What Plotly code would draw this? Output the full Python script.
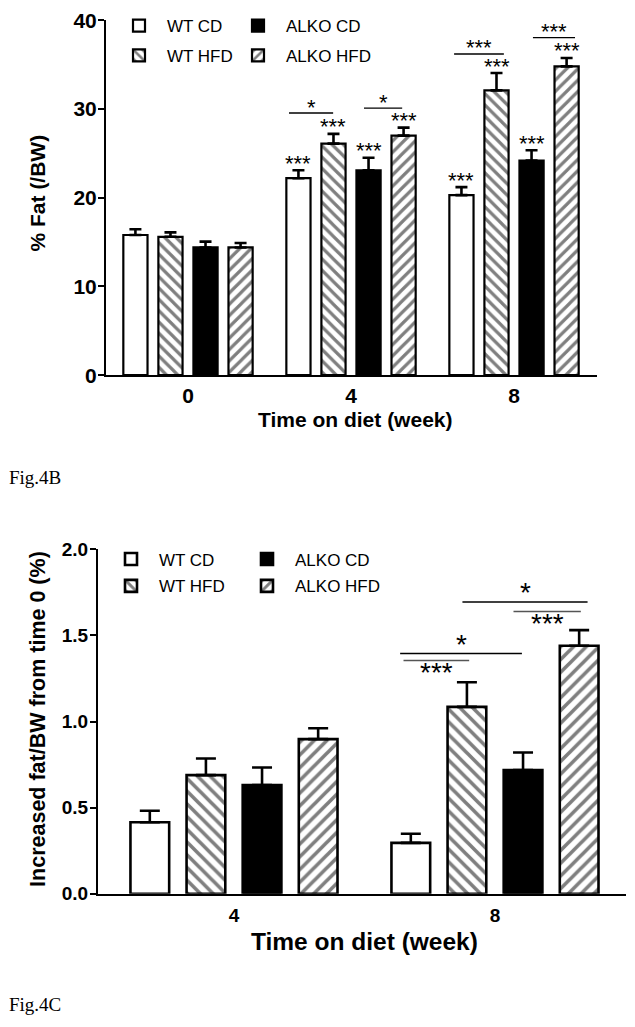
import plotly.graph_objects as go

# ---------------- data ----------------
series_names = ["WT CD", "WT HFD", "ALKO CD", "ALKO HFD"]

# Fig 4A: % Fat (/BW) at week 0, 4, 8
weeks_a = ["0", "4", "8"]
wt_cd_fat = [15.8, 22.2, 20.3]
wt_cd_fat_sem = [0.65, 0.9, 0.9]
wt_hfd_fat = [15.6, 26.1, 32.1]
wt_hfd_fat_sem = [0.5, 1.1, 1.95]
alko_cd_fat = [14.4, 23.1, 24.2]
alko_cd_fat_sem = [0.65, 1.4, 1.15]
alko_hfd_fat = [14.4, 27.0, 34.8]
alko_hfd_fat_sem = [0.5, 0.9, 0.95]
fat_stars = [["", "***", "***"], ["", "***", "***"], ["", "***", "***"], ["", "***", "***"]]
# brackets: (week index, from bar idx, to bar idx, y value, label)
fat_brackets = [(1, -0.27, 0.99, 29.55, "*"), (1, 1.87, 2.96, 30.1, "*"),
                (2, -0.21, 1.21, 36.2, "***"), (2, 2.04, 3.24, 38.05, "***")]

# Fig 4B: Increased fat/BW from time 0 (%) at week 4, 8
weeks_b = ["4", "8"]
wt_cd_inc = [0.415, 0.295]
wt_cd_inc_sem = [0.067, 0.053]
wt_hfd_inc = [0.689, 1.085]
wt_hfd_inc_sem = [0.096, 0.143]
alko_cd_inc = [0.631, 0.718]
alko_cd_inc_sem = [0.102, 0.102]
alko_hfd_inc = [0.898, 1.440]
alko_hfd_inc_sem = [0.063, 0.091]
# brackets: (week index, from bar idx, to bar idx, y value, label, label side, colour)
inc_brackets = [(1, 0.92, 3.15, 1.695, "*", "above", "black"),
                (1, 1.83, 3.03, 1.639, "***", "below", "#555555"),
                (1, -0.19, 1.98, 1.396, "*", "above", "black"),
                (1, -0.13, 1.04, 1.355, "***", "below", "#555555")]

# ---------------- styling ----------------
OFF = 8                      # default page margin of the html body
W, H = 635 - OFF, 1027 - OFF
SANS = "Liberation Sans, Arial, sans-serif"
BARGAP = 0.14
SLOT = (1 - BARGAP) / 4

def px(v):
    return (v - OFF) / W

def py(v):
    return 1 - (v - OFF) / H

def bar_x(cat, idx):
    return cat + (idx - 1.5) * SLOT

styles = [
    dict(color="white", pattern=None),
    dict(color="white", pattern="\\"),
    dict(color="black", pattern=None),
    dict(color="white", pattern="/"),
]

# legend placement per series: (left x px, centre y px) for top and bottom charts
legend_pos_top = [(111, 23), (111, 53), (230, 23), (230, 53)]
legend_pos_bot = [(103, 558), (103, 585), (239, 558), (239, 585)]

fig = go.Figure()

top_vals = [wt_cd_fat, wt_hfd_fat, alko_cd_fat, alko_hfd_fat]
top_sems = [wt_cd_fat_sem, wt_hfd_fat_sem, alko_cd_fat_sem, alko_hfd_fat_sem]
bot_vals = [wt_cd_inc, wt_hfd_inc, alko_cd_inc, alko_hfd_inc]
bot_sems = [wt_cd_inc_sem, wt_hfd_inc_sem, alko_cd_inc_sem, alko_hfd_inc_sem]

legends = {}

def leg(xp, yp):
    return dict(orientation="h", x=px(xp), y=py(yp), xanchor="left", yanchor="middle",
                font=dict(family=SANS, size=17, color="black"), bgcolor="rgba(0,0,0,0)",
                borderwidth=0, itemwidth=46)

for i, name in enumerate(series_names):
    st = styles[i]
    for chart, (vals, sems, xa, ya, lw, psize, ew, lpos) in enumerate([
        (top_vals, top_sems, "x", "y", 2.2, 8, 6, legend_pos_top),
        (bot_vals, bot_sems, "x2", "y2", 2.6, 9, 10, legend_pos_bot),
    ]):
        k = chart * 4 + i + 1
        lname = "legend" if k == 1 else "legend%d" % k
        legends[lname] = leg(*lpos[i])
        marker = dict(color=st["color"], line=dict(color="black", width=lw))
        if st["pattern"]:
            marker["pattern"] = dict(shape=st["pattern"], fgcolor="black", bgcolor="white",
                                     size=psize, solidity=0.4, fillmode="overlay")
        fig.add_trace(go.Bar(
            x=list(range(len(vals[i]))), y=vals[i], name=name, marker=marker,
            xaxis=xa, yaxis=ya, offsetgroup=str(i), legend=lname,
            error_y=dict(type="data", array=sems[i], arrayminus=[0] * len(sems[i]),
                         symmetric=False, color="black", thickness=2.6, width=ew),
        ))

annotations = []
shapes = []

# stars above bars (top chart)
for i in range(4):
    for c in range(3):
        if fat_stars[i][c]:
            annotations.append(dict(x=bar_x(c, i), y=top_vals[i][c] + top_sems[i][c],
                                    xref="x", yref="y", text=fat_stars[i][c], showarrow=False,
                                    font=dict(family=SANS, size=22, color="black"),
                                    yanchor="middle", yshift=7))
for c, a, b, yv, lab in fat_brackets:
    shapes.append(dict(type="line", xref="x", yref="y", x0=bar_x(c, a), x1=bar_x(c, b),
                       y0=yv, y1=yv, line=dict(color="black", width=1.3)))
    annotations.append(dict(x=(bar_x(c, a) + bar_x(c, b)) / 2, y=yv, xref="x", yref="y",
                            text=lab, showarrow=False,
                            font=dict(family=SANS, size=22, color="black"),
                            yanchor="middle", yshift=6))

for c, a, b, yv, lab, side, col in inc_brackets:
    shapes.append(dict(type="line", xref="x2", yref="y2", x0=bar_x(c, a), x1=bar_x(c, b),
                       y0=yv, y1=yv, line=dict(color=col, width=1.5)))
    annotations.append(dict(x=(bar_x(c, a) + bar_x(c, b)) / 2, y=yv, xref="x2", yref="y2",
                            text=lab, showarrow=False,
                            font=dict(family=SANS, size=28, color="black"),
                            yanchor="middle", yshift=9 if side == "above" else -12))

# axis titles and figure labels
annotations += [
    dict(x=px(355), y=py(418), xref="paper", yref="paper", text="Time on diet (week)",
         showarrow=False, font=dict(family=SANS, size=21, color="black", weight="bold"),
         xanchor="center", yanchor="middle"),
    dict(x=px(37), y=py(191), xref="paper", yref="paper", text="% Fat (/BW)", textangle=-90,
         showarrow=False, font=dict(family=SANS, size=21, color="black", weight="bold"),
         xanchor="center", yanchor="middle"),
    dict(x=px(364), y=py(941), xref="paper", yref="paper", text="Time on diet (week)",
         showarrow=False, font=dict(family=SANS, size=24.5, color="black", weight="bold"),
         xanchor="center", yanchor="middle"),
    dict(x=px(38), y=py(718), xref="paper", yref="paper",
         text="Increased fat/BW from time 0 (%)", textangle=-90,
         showarrow=False, font=dict(family=SANS, size=21.5, color="black", weight="bold"),
         xanchor="center", yanchor="middle"),
    dict(x=px(7), y=py(476), xref="paper", yref="paper", text="Fig.4B", showarrow=False,
         font=dict(family="Liberation Serif, Times New Roman, serif", size=19, color="black"),
         xanchor="left", yanchor="middle"),
    dict(x=px(7), y=py(1004), xref="paper", yref="paper", text="Fig.4C", showarrow=False,
         font=dict(family="Liberation Serif, Times New Roman, serif", size=19, color="black"),
         xanchor="left", yanchor="middle"),
]

tickfont_top = dict(family=SANS, size=21, color="black", weight="bold")
tickfont_bot = dict(family=SANS, size=19, color="black", weight="bold")

fig.update_layout(
    width=W, height=H, margin=dict(l=0, r=0, t=0, b=0),
    template="none", paper_bgcolor="white", plot_bgcolor="white",
    barmode="group", bargap=BARGAP, bargroupgap=0.31,
    showlegend=True,
    xaxis=dict(domain=[px(106), px(597)], range=[-0.503, 2.509], tickvals=[0, 1, 2],
               ticktext=weeks_a, showline=True, linecolor="black", linewidth=2, ticks="",
               showgrid=False, zeroline=False, tickfont=tickfont_top, ticklabelstandoff=1,
               anchor="y", automargin=False),
    yaxis=dict(domain=[py(373.3), py(17.3)], range=[0, 40], tickvals=[0, 10, 20, 30, 40],
               showline=True, linecolor="black", linewidth=2, ticks="outside", ticklen=6,
               tickwidth=2, tickcolor="black", showgrid=False, zeroline=False,
               tickfont=tickfont_top, ticklabelstandoff=-3, anchor="x", automargin=False),
    xaxis2=dict(domain=[px(98), px(626)], range=[-0.521, 1.502], tickvals=[0, 1],
                ticktext=weeks_b, showline=True, linecolor="black", linewidth=2, ticks="",
                showgrid=False, zeroline=False, tickfont=tickfont_bot, ticklabelstandoff=4,
                anchor="y2", automargin=False),
    yaxis2=dict(domain=[py(893.3), py(548)], range=[0, 2], tickvals=[0, 0.5, 1, 1.5, 2],
                tickformat=".1f", showline=True, linecolor="black", linewidth=2,
                ticks="outside", ticklen=6, tickwidth=2, tickcolor="black", showgrid=False,
                zeroline=False, tickfont=tickfont_bot, ticklabelstandoff=-2, anchor="x2",
                automargin=False),
    annotations=annotations, shapes=shapes,
    **legends,
)

fig.write_html("out.html")
